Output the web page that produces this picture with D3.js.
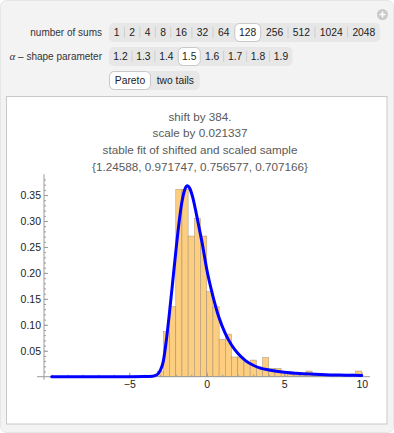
<!DOCTYPE html>
<html>
<head>
<meta charset="utf-8">
<script src="https://cdn.jsdelivr.net/npm/d3@7"></script>
<style>
  html, body { margin: 0; padding: 0; background: #ffffff; }
  svg { display: block; }
  text { font-family: "Liberation Sans", Arial, sans-serif; }
</style>
</head>
<body>
<svg id="chart" width="394" height="433"></svg>
<script>
// ---------- data ----------
const sumsOptions = ["1", "2", "4", "8", "16", "32", "64", "128", "256", "512", "1024", "2048"];
const sumsSelected = "128";
const alphaOptions = ["1.2", "1.3", "1.4", "1.5", "1.6", "1.7", "1.8", "1.9"];
const alphaSelected = "1.5";
const tailOptions = ["Pareto", "two tails"];
const tailSelected = "Pareto";

const titleLines = [
  "shift by 384.",
  "scale by 0.021337",
  "stable fit of shifted and scaled sample",
  "{1.24588, 0.971747, 0.756577, 0.707166}"
];

// histogram bins (lower edge, width 0.4) and density heights
const binWidth = 0.4;
const binLo = [-3.2, -2.8, -2.4, -2.0, -1.6, -1.2, -0.8, -0.4, 0.0, 0.4, 0.8, 1.2, 1.6, 2.0, 2.4, 2.8,
               3.2, 3.6, 4.0, 4.4, 4.8, 5.2, 5.6, 6.0, 6.4, 6.8, 7.2, 7.6, 8.0, 8.4, 8.8, 9.2, 9.6];
const binDensity = [0.010, 0.087, 0.135, 0.361, 0.361, 0.271, 0.305, 0.271, 0.164, 0.135, 0.072, 0.082,
                    0.038, 0.038, 0.027, 0.032, 0.019, 0.037, 0.016, 0.016, 0.008, 0.005, 0.003, 0.004,
                    0.011, 0.003, 0.003, 0.002, 0.003, 0.004, 0.002, 0.005, 0.011];

// fitted stable density
const curveX = [-10, -6, -4, -3.5, -3.2, -3.0, -2.8, -2.6, -2.4, -2.2, -2.0, -1.8, -1.6, -1.4, -1.25,
                -1.1, -0.9, -0.7, -0.5, -0.3, 0.0, 0.4, 0.8, 1.2, 1.6, 2.0, 2.5, 3.0, 3.5, 4.0, 5.0,
                6.0, 7.0, 8.0, 9.0, 10.0];
const curveY = [0, 0, 0.0002, 0.001, 0.004, 0.012, 0.03, 0.072, 0.125, 0.182, 0.24, 0.294, 0.337, 0.362, 0.368,
                0.363, 0.345, 0.318, 0.288, 0.258, 0.207, 0.155, 0.113, 0.083, 0.061, 0.045, 0.031, 0.022, 0.016,
                0.013, 0.0085, 0.006, 0.0045, 0.0035, 0.003, 0.0025];

const xMajor = [-5, 0, 5, 10];
const xMinor = d3.range(-10, 11, 1);
const yMajor = [0.05, 0.10, 0.15, 0.20, 0.25, 0.30, 0.35];
const yMinor = d3.range(1, 39).map(d => d / 100);

// ---------- drawing ----------
const svg = d3.select("#chart");

// outer panel
svg.append("rect").attr("x", 0.5).attr("y", 0.5).attr("width", 393).attr("height", 432)
  .attr("rx", 6).attr("fill", "#f3f3f3").attr("stroke", "#e6e6e6");

// plus icon
const plus = svg.append("g").attr("transform", "translate(382.5,14.5)");
plus.append("circle").attr("r", 5.5).attr("fill", "#c9c9c9");
plus.append("path").attr("d", "M-3,0H3M0,-3V3").attr("stroke", "#fff").attr("stroke-width", 1.6);

// controls
function controlRow(label, options, selected, x0, yTop, h, pad, italicAlpha) {
  const g = svg.append("g");
  const lab = g.append("text").attr("x", x0 - 7).attr("y", yTop + h / 2 + 3.5)
    .attr("text-anchor", "end").attr("font-size", 10).attr("fill", "#333");
  if (italicAlpha) {
    lab.append("tspan").attr("font-style", "italic").attr("font-family", "'Liberation Serif', serif")
      .attr("font-size", 11).text("α");
    lab.append("tspan").text(" – shape parameter");
  } else {
    lab.text(label);
  }
  const tmp = g.append("text").attr("font-size", 10.3);
  const widths = options.map(o => { tmp.text(o); return tmp.node().getComputedTextLength() + 2 * pad; });
  tmp.remove();
  const total = d3.sum(widths);
  g.append("rect").attr("x", x0).attr("y", yTop).attr("width", total).attr("height", h)
    .attr("rx", 5).attr("fill", "#e7e7e7");
  let xx = x0;
  const pos = options.map((o, i) => { const p = xx; xx += widths[i]; return p; });
  options.forEach((o, i) => {
    if (i > 0 && o !== selected && options[i - 1] !== selected) {
      g.append("line").attr("x1", pos[i]).attr("x2", pos[i]).attr("y1", yTop + 4).attr("y2", yTop + h - 4)
        .attr("stroke", "#cfcfcf").attr("stroke-width", 1);
    }
  });
  options.forEach((o, i) => {
    if (o === selected) {
      g.append("rect").attr("x", pos[i] + 0.5).attr("y", yTop + 0.5).attr("width", widths[i] - 1)
        .attr("height", h - 1).attr("rx", 5).attr("fill", "#fff").attr("stroke", "#bdbdbd").attr("stroke-width", 0.8);
    }
    g.append("text").attr("x", pos[i] + widths[i] / 2).attr("y", yTop + h / 2 + 3.5)
      .attr("text-anchor", "middle").attr("font-size", 10.3).attr("fill", "#222").text(o);
  });
}
controlRow("number of sums", sumsOptions, sumsSelected, 109, 23, 19, 4.85, false);
controlRow("", alphaOptions, alphaSelected, 109, 47, 19, 4.3, true);
controlRow("", tailOptions, tailSelected, 109, 71, 19, 5.8, false);

// chart panel
svg.append("rect").attr("x", 6.5).attr("y", 96.5).attr("width", 380.5).attr("height", 327.5)
  .attr("fill", "#fff").attr("stroke", "#c9c9c9").attr("stroke-width", 1);

// title
const title = svg.append("g");
titleLines.forEach((t, i) => {
  title.append("text").attr("x", 200).attr("y", 120.5 + i * 16.8).attr("text-anchor", "middle")
    .attr("font-size", 11.7).attr("fill", "#5a5a5a").text(t);
});

// scales
const x = d3.scaleLinear().domain([-10.5, 10.5]).range([44, 369.5]);
const y = d3.scaleLinear().domain([0, 0.39]).range([376.7, 174.3]);

// bars
svg.append("g").selectAll("rect").data(binLo).join("rect")
  .attr("x", d => x(d)).attr("width", d => x(d + binWidth) - x(d))
  .attr("y", (d, i) => y(binDensity[i])).attr("height", (d, i) => y(0) - y(binDensity[i]))
  .attr("fill", "rgb(253,206,128)").attr("stroke", "rgba(120,110,100,0.55)").attr("stroke-width", 0.6);

// axes
const axisColor = "#9a9a9a";
function styleAxis(g) {
  g.selectAll(".domain").remove();
  g.selectAll(".tick line").attr("stroke", axisColor);
  g.selectAll(".tick text").attr("fill", "#222").attr("font-size", 10.5)
    .attr("font-family", "'Liberation Sans', Arial, sans-serif");
}
const xAxisG = svg.append("g").attr("transform", `translate(0,${y(0)})`);
xAxisG.append("g").call(d3.axisBottom(x).tickValues(xMinor).tickSize(-2).tickFormat("")).call(styleAxis);
xAxisG.append("g").call(d3.axisBottom(x).tickValues(xMajor).tickSize(-4).tickPadding(4)
  .tickFormat(d => d < 0 ? "−" + Math.abs(d) : String(d))).call(styleAxis);
xAxisG.append("line").attr("x1", 37).attr("x2", 370).attr("stroke", axisColor);

const yAxisG = svg.append("g").attr("transform", `translate(${x(-10.5)},0)`);
yAxisG.append("g").call(d3.axisLeft(y).tickValues(yMinor).tickSize(-2).tickFormat("")).call(styleAxis);
yAxisG.append("g").call(d3.axisLeft(y).tickValues(yMajor).tickSize(-4).tickPadding(3)
  .tickFormat(d3.format(".2f"))).call(styleAxis);
yAxisG.append("line").attr("y1", y(0) + 3).attr("y2", y(0.39)).attr("stroke", axisColor);

// fitted curve
const line = d3.line().x((d, i) => x(curveX[i])).y((d, i) => y(curveY[i])).curve(d3.curveMonotoneX);
svg.append("path").datum(curveX).attr("d", line).attr("fill", "none")
  .attr("stroke", "#0000ff").attr("stroke-width", 3).attr("stroke-linejoin", "round").attr("stroke-linecap", "round");
</script>
</body>
</html>
